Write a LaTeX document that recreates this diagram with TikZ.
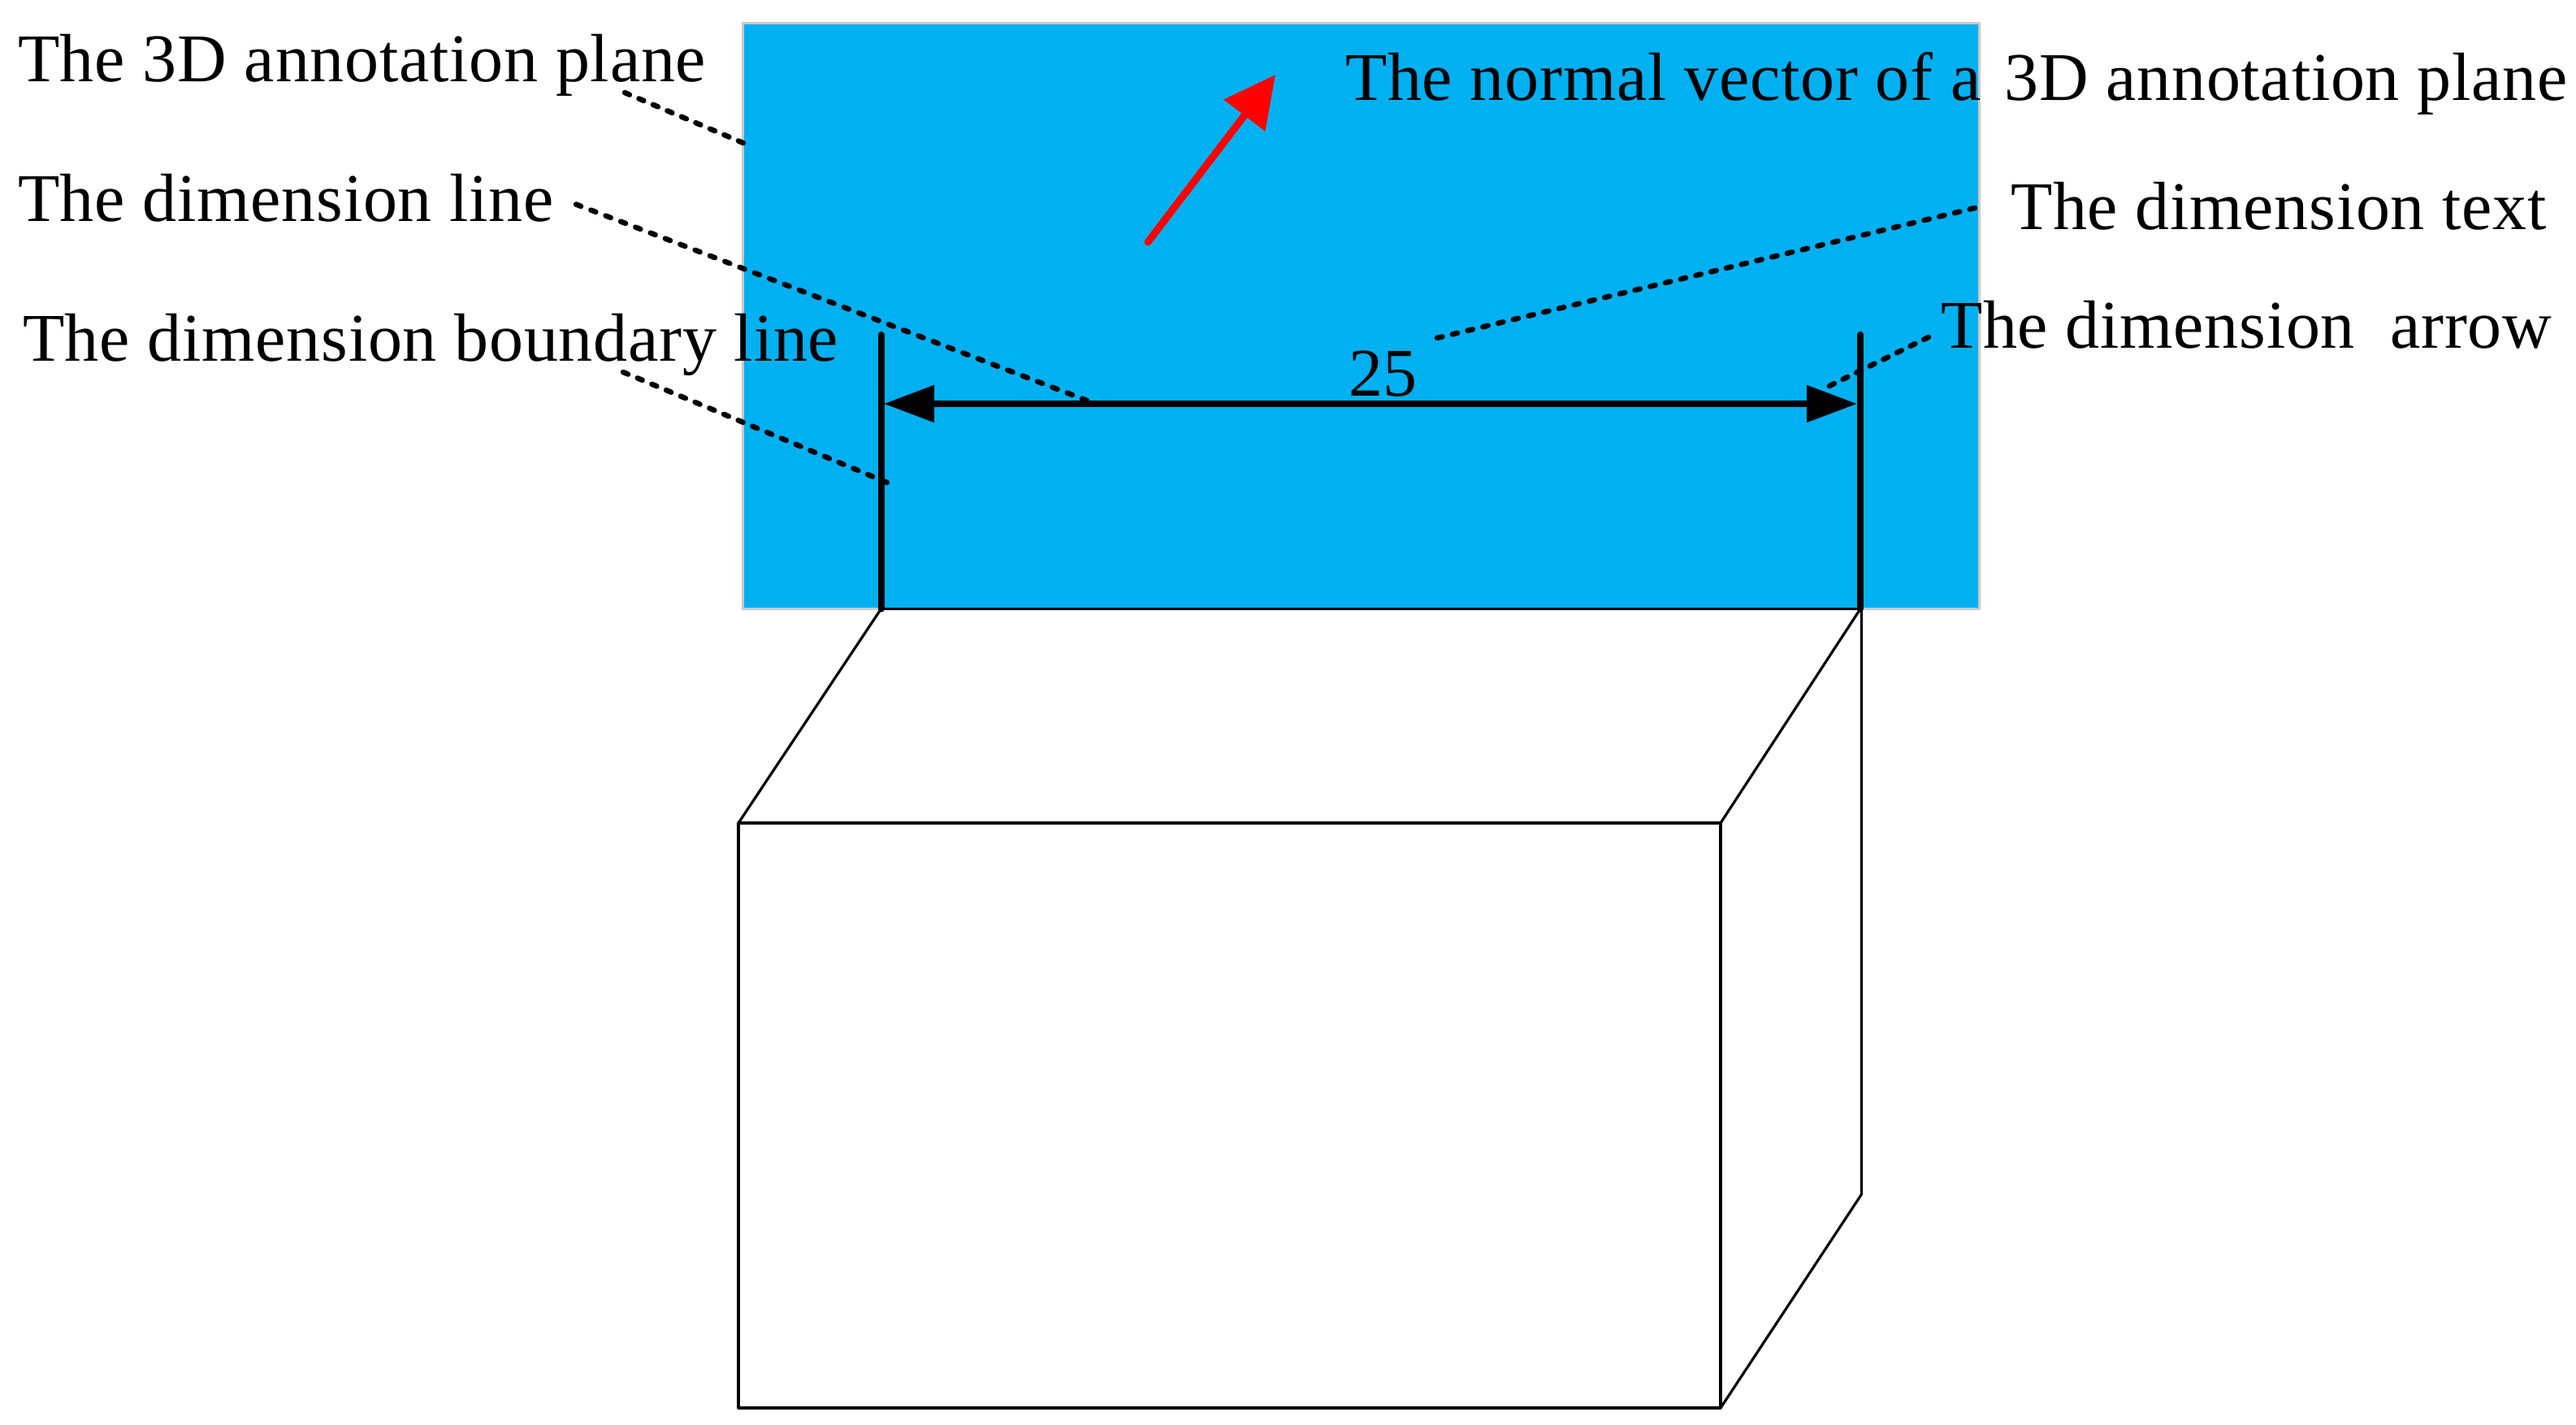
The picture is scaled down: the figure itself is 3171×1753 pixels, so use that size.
\documentclass[tikz,border=0pt]{standalone}
\usepackage{fontspec}
\setmainfont{Liberation Serif}[LetterSpace=0.9]
\usetikzlibrary{arrows.meta}
\definecolor{planeblue}{RGB}{0,176,240}
\definecolor{planeedge}{RGB}{200,200,200}
\tikzset{
  lab/.style={anchor=base west,inner sep=0pt,outer sep=0pt,text=black,font=\fontsize{84}{100}\selectfont},
  leader/.style={line width=6.5pt,line cap=round,dash pattern=on 6.5pt off #1,black},
  thick edge/.style={line width=8pt,black},
  thin edge/.style={line width=3.2pt,black,line join=round},
  dim tip/.style={{Triangle[length=62pt,width=44pt]}-{Triangle[length=62pt,width=44pt]}},
  normal tip/.style={-{Triangle[length=63pt,width=62pt]}}
}
\begin{document}
\begin{tikzpicture}[x=1pt,y=-1pt]
\useasboundingbox (0,0) rectangle (3171,1753);
% annotation plane
\draw[fill=planeblue,draw=planeedge,line width=3pt] (914.5,29) rectangle (2436.5,749.5);
% key points
\coordinate (bl) at (1084.5,749.5);
\coordinate (br) at (2290,749.5);
\coordinate (blt) at (1084.5,412);
\coordinate (brt) at (2290,412);
\coordinate (dl) at (1088,497);
\coordinate (dr) at (2286,497);
\coordinate (fl) at (909,1013);
\coordinate (fr) at (2118,1013);
\coordinate (gl) at (909,1733);
\coordinate (gr) at (2118,1733);
\coordinate (bk) at (2291.5,751);
\coordinate (bkb) at (2291.5,1470);
\coordinate (ntail) at (1413,298);
\coordinate (ntip) at (1570,92);
% box
\draw[thin edge] (fl) rectangle (gr);
\draw[thin edge] (fl) -- (bl);
\draw[thin edge] (fr) -- (br);
\draw[thin edge] (bk) -- (bkb) -- (gr);
\draw[line width=3.2pt,black] (bl) -- (br);
% dimension boundaries and line
\draw[thick edge,line cap=round] (blt) -- (bl);
\draw[thick edge,line cap=round] (brt) -- (br);
\draw[thick edge,dim tip] (dl) -- (dr);
% normal vector
\draw[line width=9pt,red,line cap=round,normal tip] (ntail) -- (ntip);
% labels
\node[lab] (t1) at (22,100) {The 3D annotation plane};
\node[lab] (t2) at (22,272.5) {The dimension line};
\node[lab] (t3) at (28,444.5) {The dimension boundary line};
\node[lab] (t4) at (1656,123) {The normal vector of a\ \kern7pt 3D annotation plane};
\node[lab] (t5) at (2475,282.5) {The dimension text};
\node[lab] (t6) at (2389,428) {The dimension\ \ arrow};
\node[lab] (t7) at (1660,487) {25};
% leaders
\coordinate (a1) at (769,114);   \coordinate (b1) at (915,176);
\coordinate (a2) at (709,251.5); \coordinate (b2) at (1338,493);
\coordinate (a3) at (767,458);   \coordinate (b3) at (1092,594);
\coordinate (a4) at (2431,256);  \coordinate (b4) at (1769,416);
\coordinate (a5) at (2374,415);  \coordinate (b5) at (2252,475);
\draw[leader=12.5pt] (a1) -- (b1);
\draw[leader=13.13pt] (a2) -- (b2);
\draw[leader=12.7pt] (a3) -- (b3);
\draw[leader=12.77pt] (a4) -- (b4);
\draw[leader=12pt] (a5) -- (b5);
\end{tikzpicture}
\end{document}
